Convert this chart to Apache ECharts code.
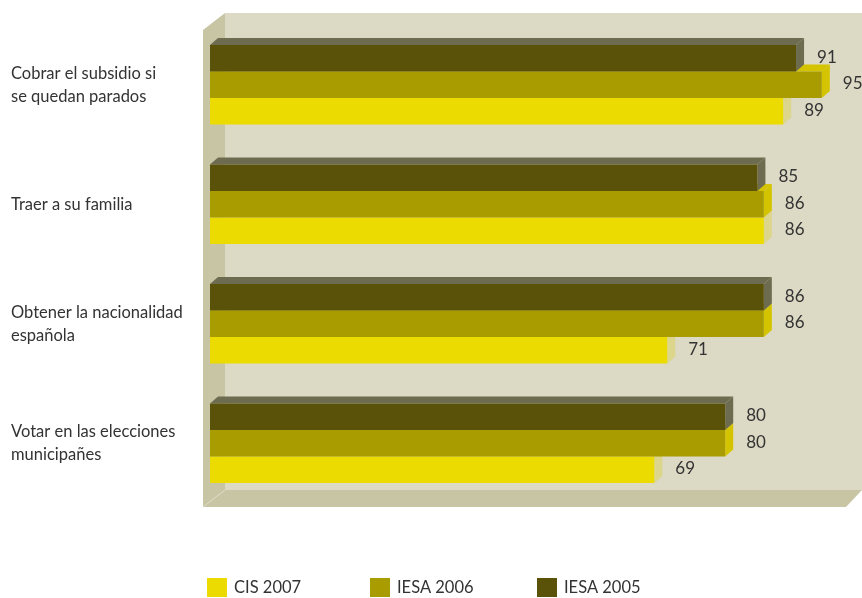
<!DOCTYPE html>
<html><head><meta charset="utf-8">
<script src="https://cdn.jsdelivr.net/npm/echarts@6/dist/echarts.min.js"></script>
<style>html,body{margin:0;padding:0;background:#fff}#c{width:862px;height:598px}</style>
</head><body><div id="c"></div>
<script>
const categories = ['Cobrar el subsidio si\nse quedan parados', 'Traer a su familia', 'Obtener la nacionalidad\nespañola', 'Votar en las elecciones\nmunicipañes'];
const seriesNames = ['CIS 2007', 'IESA 2006', 'IESA 2005'];
const cis2007 = [89, 86, 71, 69];
const iesa2006 = [95, 86, 86, 80];
const iesa2005 = [91, 85, 86, 80];

const FONT = 'Lato';
const frontColors = ['#ecdb00', '#a89c00', '#5a5208'];
const sideColors = ['#dcd58c', '#d4c400', '#6e6c50'];
const slots = [2, 1, 0];
const DX = 8, DY = 7;

function makeRender(si) {
  return function (params, api) {
    const cat = api.value(0), val = api.value(1);
    const p0 = api.coord([0, cat]);
    const p1 = api.coord([val, cat]);
    const band = api.size([0, 1])[1];
    const h = band * 0.222;
    const top = p0[1] - 1.5 * h + slots[si] * h;
    const x0 = p0[0], x1 = p1[0];
    return {
      type: 'group',
      children: [
        { type: 'polygon', shape: { points: [[x0, top], [x0 + DX, top - DY], [x1 + DX, top - DY], [x1, top]] }, style: { fill: sideColors[si] } },
        { type: 'polygon', shape: { points: [[x1, top], [x1 + DX, top - DY], [x1 + DX, top + h - DY], [x1, top + h]] }, style: { fill: sideColors[si] } },
        { type: 'rect', shape: { x: x0, y: top, width: x1 - x0, height: h }, style: { fill: frontColors[si] } },
        { type: 'text', x: x1 + 21, y: top + h / 2 - 1, style: { text: String(val), fill: '#333', font: '17px "' + FONT + '"', textAlign: 'left', textVerticalAlign: 'middle' } }
      ]
    };
  };
}

const dataArr = [cis2007, iesa2006, iesa2005];
const series = dataArr.map((arr, si) => ({
  type: 'custom',
  name: seriesNames[si],
  renderItem: makeRender(si),
  itemStyle: { color: frontColors[si] },
  encode: { x: 1, y: 0 },
  data: arr.map((v, i) => [i, v]),
  z: 2
}));

const legendLefts = [207, 370, 537];
const legends = seriesNames.map((n, i) => ({
  data: [n], left: legendLefts[i], top: 578, padding: 0,
  icon: 'rect', itemWidth: 20, itemHeight: 19, itemGap: 7,
  textStyle: { fontSize: 16.5, color: '#333', fontFamily: FONT, padding: [0, 0, 0, 2] }
}));

const chart = echarts.init(document.getElementById('c'));
chart.setOption({
  animation: false,
  grid: { left: 210, right: 8, top: 25, bottom: 95 },
  xAxis: { type: 'value', min: 0, max: 100, show: false },
  yAxis: {
    type: 'category', data: categories, inverse: true,
    axisLine: { show: false }, axisTick: { show: false },
    axisLabel: { align: 'left', margin: 199, fontSize: 16.5, lineHeight: 23, color: '#333', fontFamily: FONT }
  },
  legend: legends,
  graphic: [
    { type: 'rect', z: 0, shape: { x: 225, y: 13, width: 637, height: 477 }, style: { fill: '#dcd9c4' } },
    { type: 'polygon', z: 0, shape: { points: [[203, 30], [225, 13], [225, 490], [203, 507]] }, style: { fill: '#c8c5a5' } },
    { type: 'polygon', z: 0, shape: { points: [[203, 507], [225, 490], [862, 490], [846, 507]] }, style: { fill: '#c8c5a5' } },
    { type: 'line', z: 0, shape: { x1: 203, y1: 507, x2: 225, y2: 490 }, style: { stroke: '#dcd9c4', lineWidth: 1 } }
  ],
  series: series
});
</script></body></html>
